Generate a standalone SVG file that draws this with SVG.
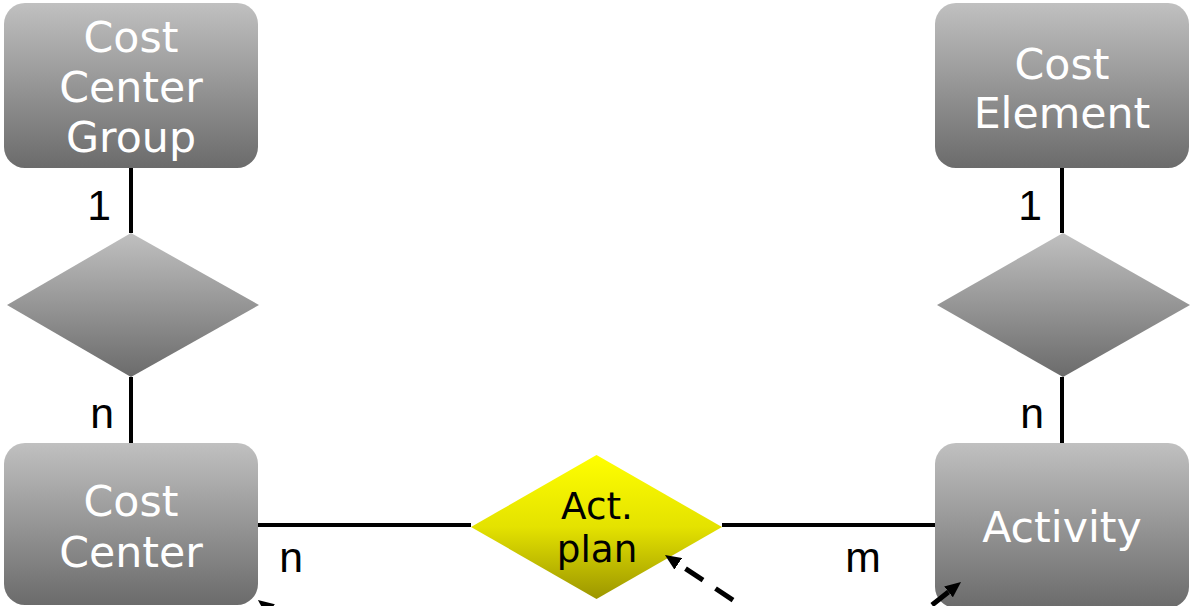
<svg xmlns="http://www.w3.org/2000/svg" width="1191" height="606" viewBox="0 0 1191 606">
<defs>
<linearGradient id="gGray" x1="0" y1="0" x2="0" y2="1">
<stop offset="0" stop-color="#c0c0c0"/>
<stop offset="1" stop-color="#6b6b6b"/>
</linearGradient>
<linearGradient id="gYellow" x1="0" y1="0" x2="0" y2="1">
<stop offset="0" stop-color="#ffff00"/>
<stop offset="0.5" stop-color="#e4e200"/>
<stop offset="1" stop-color="#9c9600"/>
</linearGradient>
<marker id="arrow" markerUnits="userSpaceOnUse" markerWidth="16" markerHeight="14" viewBox="0 0 16 14" refX="0" refY="7" orient="auto">
<path d="M0,0 L16,7 L0,14 z" fill="#000"/>
</marker>
</defs>
<style>
.entity{fill:url(#gGray);}
.rel{fill:url(#gGray);}
.relY{fill:url(#gYellow);}
.etext{font-family:"DejaVu Sans",Verdana,sans-serif;font-size:42.7px;fill:#fff;text-anchor:middle;}
.rtext{font-family:"DejaVu Sans",Verdana,sans-serif;font-size:37.3px;fill:#000;text-anchor:middle;}
.card{font-family:"Liberation Sans",Arial,sans-serif;font-size:42.7px;fill:#000;text-anchor:middle;}
.line{stroke:#000;stroke-width:4;fill:none;}
.dash{stroke:#000;stroke-width:5;fill:none;stroke-dasharray:21 15;}
</style>
<g id="costCenterGroup">
<rect class="entity" x="4" y="3" width="254" height="165" rx="21"/>
<text class="etext" x="131" y="52">Cost</text>
<text class="etext" x="131" y="102">Center</text>
<text class="etext" x="131" y="152">Group</text>
</g>
<g id="relLeft">
<polygon class="rel" points="131,233 259,305 131,377 7,305"/>
</g>
<g id="costCenter">
<rect class="entity" x="4" y="443" width="254" height="162" rx="21"/>
<text class="etext" x="131" y="516">Cost</text>
<text class="etext" x="131" y="567">Center</text>
</g>
<g id="costElement">
<rect class="entity" x="935" y="3" width="254" height="165" rx="21"/>
<text class="etext" x="1062" y="79">Cost</text>
<text class="etext" x="1062" y="128">Element</text>
</g>
<g id="relRight">
<polygon class="rel" points="1063,233 1190,305 1063,377 937,305"/>
</g>
<g id="activity">
<rect class="entity" x="935" y="443" width="254" height="165" rx="21"/>
<text class="etext" x="1062" y="542">Activity</text>
</g>
<g id="actPlan">
<polygon class="relY" points="596.5,455 722,527 596.5,599 471,527"/>
<text class="rtext" x="597" y="519">Act.</text>
<text class="rtext" x="597" y="562">plan</text>
</g>
<g id="connectors">
<line class="line" x1="131" y1="168" x2="131" y2="233"/>
<line class="line" x1="131" y1="377" x2="131" y2="443"/>
<line class="line" x1="1062" y1="168" x2="1062" y2="233"/>
<line class="line" x1="1062" y1="377" x2="1062" y2="443"/>
<line class="line" x1="258" y1="525" x2="471" y2="525"/>
<line class="line" x1="722" y1="525" x2="935" y2="525"/>
<line class="dash" x1="760" y1="618" x2="678.3" y2="563.8" stroke-dashoffset="3.6" marker-end="url(#arrow)"/>
<line class="dash" x1="905.4" y1="626.2" x2="948.5" y2="591.9" stroke-dashoffset="2" marker-end="url(#arrow)"/>
<line class="dash" x1="310" y1="640" x2="270.6" y2="609.8" marker-end="url(#arrow)"/>
<text class="card" x="99" y="220">1</text>
<text class="card" x="102" y="428">n</text>
<text class="card" x="1030" y="220">1</text>
<text class="card" x="1032" y="428">n</text>
<text class="card" x="291" y="572">n</text>
<text class="card" x="863" y="572">m</text>
</g>
</svg>
